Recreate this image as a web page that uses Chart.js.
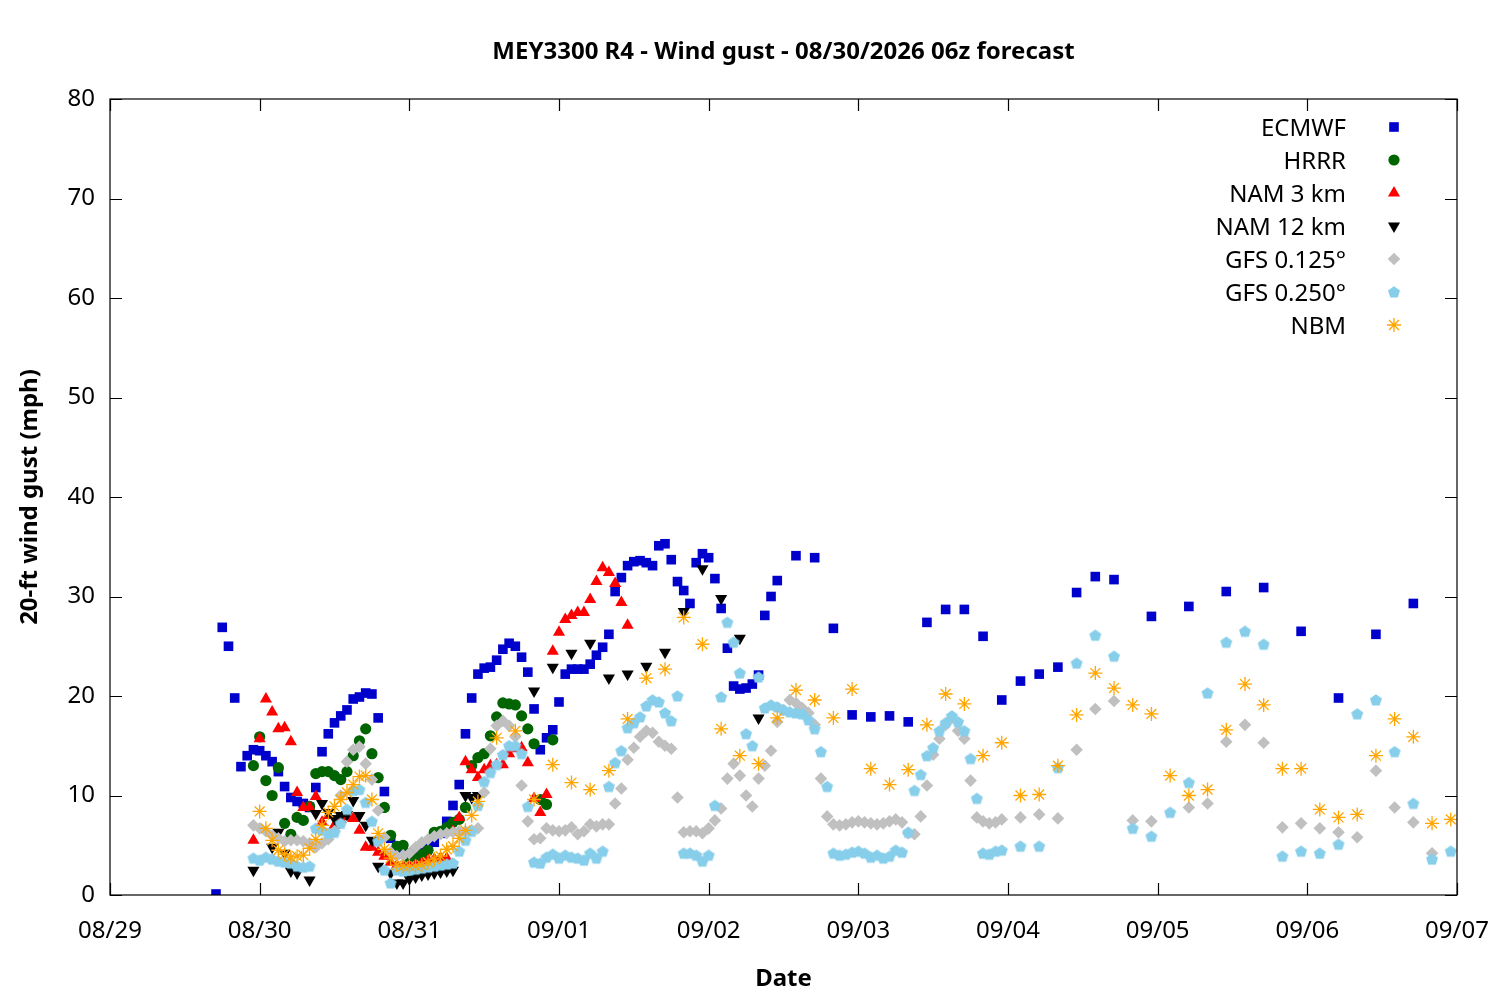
<!DOCTYPE html>
<html>
<head>
<meta charset="utf-8">
<title>MEY3300 R4 wind gust</title>
<script src="https://cdn.jsdelivr.net/npm/chart.js@4/dist/chart.umd.min.js"></script>
<style>
  html, body { margin: 0; padding: 0; background: #fff; }
</style>
</head>
<body>
<canvas id="gust-chart" width="1500" height="1000"></canvas>
<script>
// x values are hours after 08/29 00z, ticks every 24 h
const dateLabels = ['08/29', '08/30', '08/31', '09/01', '09/02', '09/03', '09/04', '09/05', '09/06', '09/07'];
const titleText = 'MEY3300 R4 - Wind gust - 08/30/2026 06z forecast';

const range = (a, b, step) => {
  const out = [];
  for (let h = a; h <= b; h += step) out.push(h);
  return out;
};

const ecmwfHours = [...range(17, 107, 1), ...range(110, 161, 3), ...range(167, 209, 6)];
const ecmwfGust = [
  0.1, 26.9, 25.0, 19.8, 12.9, 14.0, 14.6, 14.5, 14.0, 13.4,
  12.4, 10.9, 9.8, 9.4, 9.2, 8.8, 10.8, 14.4, 16.2, 17.3,
  18.0, 18.6, 19.7, 19.9, 20.3, 20.2, 17.8, 10.4, 5.7, 4.8,
  4.4, 4.2, 4.4, 4.6, 4.8, 5.3, 6.2, 7.4, 9.0, 11.1,
  16.2, 19.8, 22.2, 22.8, 22.9, 23.6, 24.7, 25.3, 25.0, 23.9,
  22.4, 18.7, 14.6, 15.8, 16.6, 19.4, 22.2, 22.7, 22.7, 22.7,
  23.2, 24.1, 24.9, 26.2, 30.5, 31.9, 33.1, 33.5, 33.6, 33.4,
  33.1, 35.1, 35.3, 33.7, 31.5, 30.6, 29.3, 33.4, 34.3, 33.9,
  31.8, 28.8, 24.8, 21.0, 20.7, 20.8, 21.2, 22.1, 28.1, 30.0,
  31.6,
  34.1, 33.9, 26.8, 18.1, 17.9, 18.0, 17.4, 27.4, 28.7, 28.7,
  26.0, 19.6, 21.5, 22.2, 22.9, 30.4, 32.0, 31.7,
  28.0, 29.0, 30.5, 30.9, 26.5, 19.8, 26.2, 29.3
];

const hrrrHours = range(23, 71, 1);
const hrrrGust = [
  13.0, 15.9, 11.5, 10.0, 12.8, 7.2, 6.1, 7.8, 7.5, 8.9,
  12.2, 12.4, 12.4, 12.0, 11.6, 12.4, 14.0, 15.5, 16.7, 14.2,
  11.8, 8.8, 6.0, 4.9, 5.0, 3.2, 3.6, 4.1, 4.5, 6.3,
  6.4, 6.8, 7.3, 7.6, 8.8, 13.0, 13.8, 14.2, 16.0, 17.9,
  19.3, 19.2, 19.1, 18.0, 16.7, 15.2, 9.6, 9.1, 15.6
];

const nam3Hours = range(23, 83, 1);
const nam3Gust = [
  5.5, 15.7, 19.7, 18.4, 16.7, 16.8, 15.4, 10.3, 8.8, 8.8,
  9.9, 7.3, 8.0, 7.0, 7.6, 7.9, 7.7, 6.5, 4.8, 4.8,
  4.3, 3.9, 3.3, 3.0, 2.8, 2.9, 3.0, 3.2, 3.5, 3.6,
  3.7, 3.7, 6.4, 7.8, 13.4, 12.6, 11.8, 12.6, 13.0, 13.1,
  13.1, 14.2, 14.7, 14.8, 13.3, 9.7, 8.3, 10.1, 24.5, 26.4,
  27.7, 28.1, 28.4, 28.4, 29.7, 31.5, 32.9, 32.4, 31.3, 29.4,
  27.1
];

const nam12Hours = [
  23, 26, 27, 28, 29, 30, 32, 33, 34, 35, 36, 37, 38, 39, 40, 41, 42, 43,
  45, 46, 47, 48, 49, 50, 51, 52, 53, 54, 55, 57, 58, 59,
  68, 71, 74, 77, 80, 83, 86, 89, 92, 95, 98, 101, 104
];
const nam12Gust = [
  2.5, 4.8, 6.3, 4.2, 2.4, 2.2, 1.5, 8.2, 9.2, 8.3, 7.7, 8.0, 8.1, 9.5, 8.0, 7.0, 5.5, 2.9,
  2.2, 1.2, 1.2, 1.6, 1.8, 2.0, 2.1, 2.2, 2.3, 2.4, 2.5, 10.0, 9.8, 10.0,
  20.5, 22.9, 24.3, 25.3, 21.8, 22.2, 23.0, 24.4, 28.5, 32.8, 29.8, 25.8, 17.8
];

const gfs125Hours = [
  ...range(23, 143, 1),
  146, 149, 152, 155, 158, 161, 164, 167, 173, 176, 179, 182, 185, 188, 191, 194, 197, 200, 203, 206, 209, 212
];
const gfs125Gust = [
  7.0, 6.7, 6.4, 6.0, 5.7, 5.4, 5.5, 5.5, 5.4, 5.2,
  4.8, 5.2, 5.6, 6.4, 10.0, 13.4, 14.6, 14.9, 13.2, 11.6,
  8.5, 5.8, 4.3, 3.9, 4.0, 4.2, 4.8, 5.3, 5.6, 5.9,
  6.1, 6.2, 6.3, 6.4, 6.4, 6.5, 6.7, 10.3, 14.7, 17.0,
  17.5, 17.0, 15.9, 11.0, 7.4, 5.6, 5.7, 6.7, 6.5, 6.4,
  6.5, 6.8, 6.1, 6.4, 7.1, 6.9, 7.1, 7.1, 9.2, 10.7,
  13.6, 14.8, 15.9, 16.5, 16.3, 15.4, 15.0, 14.7, 9.8, 6.3,
  6.4, 6.4, 6.2, 6.7, 7.5, 8.7, 11.7, 13.2, 12.0, 10.0,
  8.9, 11.7, 13.0, 14.5, 17.4, 18.6, 19.6, 19.3, 18.8, 18.3,
  17.1, 11.7, 7.9, 7.1, 7.0, 7.1, 7.3, 7.4, 7.3, 7.2,
  7.1, 7.2, 7.4, 7.6, 7.3, 6.2, 6.1, 7.9, 11.0, 14.1,
  15.7, 17.1, 17.8, 16.5, 15.7, 11.5, 7.8, 7.4, 7.2, 7.3,
  7.6,
  7.8, 8.1, 7.7, 14.6, 18.7, 19.5, 7.5, 7.4, 8.8, 9.2, 15.4,
  17.1, 15.3, 6.8, 7.2, 6.7, 6.3, 5.8, 12.5, 8.8, 7.3, 4.2
];

const gfs250Hours = [...range(23, 143, 1), ...range(146, 215, 3)];
const gfs250Gust = [
  3.7, 3.5, 3.8, 3.6, 3.4, 3.3, 3.2, 2.9, 2.8, 2.9,
  6.7, 6.5, 6.2, 6.3, 7.2, 8.6, 10.5, 10.6, 9.3, 7.4,
  5.4, 2.5, 1.2, 2.5, 2.4, 2.5, 2.6, 2.7, 2.8, 2.9,
  3.0, 3.1, 3.2, 4.4, 5.5, 6.4, 9.0, 11.4, 12.3, 13.1,
  14.1, 15.0, 15.0, 14.2, 8.9, 3.3, 3.2, 3.8, 4.1, 3.7,
  4.0, 3.8, 3.7, 3.5, 4.2, 3.7, 4.4, 10.9, 13.3, 14.5,
  16.8, 17.3, 17.9, 19.0, 19.6, 19.4, 18.3, 17.5, 20.0, 4.2,
  4.2, 4.0, 3.4, 4.0, 9.0, 19.9, 27.4, 25.4, 22.3, 16.2,
  15.0, 21.9, 18.8, 19.1, 18.9, 18.6, 18.4, 18.3, 18.2, 17.6,
  16.7, 14.4, 10.9, 4.2, 4.0, 4.1, 4.3, 4.4, 4.2, 3.8,
  4.0, 3.7, 3.9, 4.5, 4.3, 6.3, 10.5, 12.1, 14.0, 14.8,
  16.5, 17.3, 18.0, 17.4, 16.5, 13.7, 9.7, 4.2, 4.1, 4.4,
  4.5,
  4.9, 4.9, 12.8, 23.3, 26.1, 24.0, 6.7, 5.9, 8.3, 11.3, 20.3, 25.4,
  26.5, 25.2, 3.9, 4.4, 4.2, 5.1, 18.2, 19.6, 14.4, 9.2, 3.6, 4.4
];

const nbmHours = [...range(24, 59, 1), ...range(62, 215, 3)];
const nbmGust = [
  8.4, 6.7, 5.5, 4.5, 4.1, 3.8, 3.9, 4.0, 4.7, 5.6,
  7.0, 8.3, 8.9, 9.6, 10.3, 11.1, 11.9, 12.0, 9.6, 6.2,
  4.6, 3.7, 3.0, 2.9, 2.9, 2.9, 3.0, 3.3, 3.6, 3.9,
  4.6, 4.9, 5.7, 6.5, 8.0, 9.4,
  15.8, 16.5, 9.6, 13.1, 11.3, 10.6, 12.5, 17.7, 21.8, 22.7,
  27.9, 25.2, 16.7, 14.0, 13.2, 17.8, 20.6, 19.6, 17.8, 20.7,
  12.7, 11.1, 12.6, 17.1, 20.2, 19.2, 14.0, 15.3, 10.0, 10.1,
  13.0, 18.1, 22.3, 20.8, 19.1, 18.2, 12.0, 10.0, 10.6, 16.6,
  21.2, 19.1, 12.7, 12.7, 8.6, 7.8, 8.1, 14.0, 17.7, 15.9,
  7.2, 7.6
];

// filled pentagon marker for the GFS 0.250 series
const pentagon = document.createElement('canvas');
pentagon.width = 14;
pentagon.height = 14;
(() => {
  const c = pentagon.getContext('2d');
  c.fillStyle = '#87ceeb';
  c.beginPath();
  for (let i = 0; i < 5; i++) {
    const a = -Math.PI / 2 + i * 2 * Math.PI / 5;
    const px = 7 + 6.3 * Math.cos(a);
    const py = 7.5 + 6.3 * Math.sin(a);
    if (i === 0) c.moveTo(px, py); else c.lineTo(px, py);
  }
  c.closePath();
  c.fill();
})();

const models = [
  { label: 'ECMWF', hours: ecmwfHours, gust: ecmwfGust, color: '#0000cc', style: 'rect', radius: 6.8, rotation: 0, line: 0 },
  { label: 'HRRR', hours: hrrrHours, gust: hrrrGust, color: '#006400', style: 'circle', radius: 5.6, rotation: 0, line: 0 },
  { label: 'NAM 3 km', hours: nam3Hours, gust: nam3Gust, color: '#ff0000', style: 'triangle', radius: 7, rotation: 0, line: 0 },
  { label: 'NAM 12 km', hours: nam12Hours, gust: nam12Gust, color: '#000000', style: 'triangle', radius: 7, rotation: 180, line: 0 },
  { label: 'GFS 0.125\u00b0', hours: gfs125Hours, gust: gfs125Gust, color: '#c0c0c0', style: 'rectRot', radius: 6.3, rotation: 0, line: 0 },
  { label: 'GFS 0.250\u00b0', hours: gfs250Hours, gust: gfs250Gust, color: '#87ceeb', style: pentagon, radius: 6, rotation: 0, line: 0 },
  { label: 'NBM', hours: nbmHours, gust: nbmGust, color: '#ffa500', style: 'star', radius: 7, rotation: 0, line: 1.3 }
];

const fontFamily = '"Noto Sans", "DejaVu Sans", sans-serif';

// gnuplot-style frame: full border with inward ticks on all four sides
const framePlugin = {
  id: 'frame',
  afterDatasetsDraw(chart) {
    const { ctx, chartArea: a, scales: { x, y } } = chart;
    const tick = 12;
    ctx.save();
    ctx.strokeStyle = '#000';
    ctx.lineWidth = 1.2;
    ctx.strokeRect(a.left, a.top, a.right - a.left, a.bottom - a.top);
    ctx.beginPath();
    dateLabels.forEach((d, i) => {
      const px = Math.round(x.getPixelForValue(i * 24)) + 0.5;
      ctx.moveTo(px, a.bottom); ctx.lineTo(px, a.bottom - tick);
      ctx.moveTo(px, a.top); ctx.lineTo(px, a.top + tick);
    });
    for (let v = 0; v <= 80; v += 10) {
      const py = Math.round(y.getPixelForValue(v)) + 0.5;
      ctx.moveTo(a.left, py); ctx.lineTo(a.left + tick, py);
      ctx.moveTo(a.right, py); ctx.lineTo(a.right - tick, py);
    }
    ctx.stroke();
    ctx.restore();
  }
};

// key in the top right corner: text right-aligned, marker after it
const keyPlugin = {
  id: 'key',
  afterDraw(chart) {
    const { ctx } = chart;
    ctx.save();
    ctx.font = '24px ' + fontFamily;
    ctx.textAlign = 'right';
    ctx.textBaseline = 'middle';
    chart.data.datasets.forEach((ds, i) => {
      const rowY = 127 + i * 33;
      ctx.fillStyle = '#000';
      ctx.fillText(ds.label, 1346, rowY + 2);
      ctx.fillStyle = ds.backgroundColor;
      ctx.strokeStyle = ds.borderColor;
      ctx.lineWidth = ds.borderWidth;
      Chart.helpers.drawPoint(ctx, {
        pointStyle: ds.pointStyle,
        rotation: ds.pointRotation,
        radius: ds.pointRadius,
        borderWidth: ds.borderWidth
      }, 1394, rowY);
    });
    ctx.restore();
  }
};

new Chart(document.getElementById('gust-chart'), {
  type: 'scatter',
  data: {
    datasets: models.map((m, i) => ({
      label: m.label,
      data: m.hours.map((h, k) => ({ x: h, y: m.gust[k] })),
      pointStyle: m.style,
      pointRadius: m.radius,
      pointRotation: m.rotation,
      backgroundColor: m.color,
      borderColor: m.color,
      borderWidth: m.line,
      order: models.length - i
    }))
  },
  options: {
    responsive: false,
    animation: false,
    layout: { padding: { left: 0, right: 43, top: 0, bottom: 0 } },
    plugins: {
      legend: { display: false },
      tooltip: { enabled: false },
      title: {
        display: true,
        fullSize: false,
        text: titleText,
        color: '#000',
        font: { family: fontFamily, size: 24, weight: 'bold', lineHeight: 1.2 },
        padding: { top: 37.6, bottom: 32.6 }
      }
    },
    scales: {
      x: {
        type: 'linear',
        min: 0,
        max: 216,
        afterBuildTicks: (scale) => {
          scale.ticks = dateLabels.map((d, i) => ({ value: i * 24 }));
        },
        afterFit: (scale) => {
          scale.height = 105;
          scale.paddingLeft = 0;
          scale.paddingRight = 0;
        },
        ticks: {
          callback: (v) => dateLabels[Math.round(v / 24)],
          color: '#000',
          font: { family: fontFamily, size: 24 },
          padding: 21.6,
          maxRotation: 0,
          autoSkip: false
        },
        grid: { display: false, drawTicks: false },
        border: { display: false },
        title: {
          display: true,
          text: 'Date',
          color: '#000',
          font: { family: fontFamily, size: 24, weight: 'bold', lineHeight: 1.2 },
          padding: { top: 6.6, bottom: 6.6 }
        }
      },
      y: {
        min: 0,
        max: 80,
        afterFit: (scale) => {
          scale.width = 110;
          scale.paddingTop = 0;
          scale.paddingBottom = 0;
        },
        ticks: {
          stepSize: 10,
          color: '#000',
          font: { family: fontFamily, size: 24 },
          padding: 15
        },
        grid: { display: false, drawTicks: false },
        border: { display: false },
        title: {
          display: true,
          text: '20-ft wind gust (mph)',
          color: '#000',
          font: { family: fontFamily, size: 24, weight: 'bold', lineHeight: 1.2 },
          padding: { top: 15.6, bottom: 15.6 }
        }
      }
    }
  },
  plugins: [framePlugin, keyPlugin]
});
</script>
</body>
</html>
